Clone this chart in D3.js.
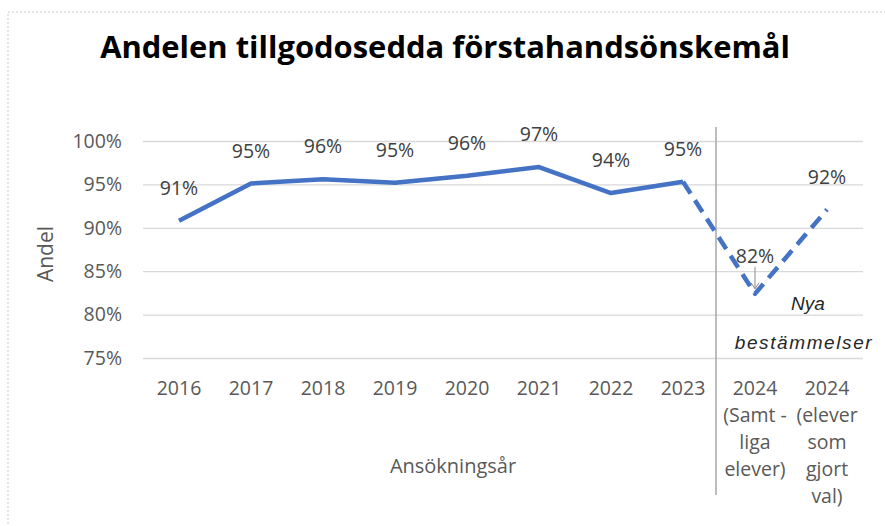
<!DOCTYPE html>
<html>
<head>
<meta charset="utf-8">
<script src="https://cdn.jsdelivr.net/npm/d3@7"></script>
<style>
  body { margin: 0; background: #fff; }
  svg { display: block; font-family: "Open Sans", sans-serif; }
</style>
</head>
<body>
<svg id="chart" width="885" height="526"></svg>
<script>
// Data
const categories = ["2016", "2017", "2018", "2019", "2020", "2021", "2022", "2023",
  "2024 (Samtliga elever)", "2024 (elever som gjort val)"];
const tickLines = [["2016"], ["2017"], ["2018"], ["2019"], ["2020"], ["2021"], ["2022"], ["2023"],
  ["2024", "(Samt -", "liga", "elever)"], ["2024", "(elever", "som", "gjort", "val)"]];
const values = [0.908, 0.951, 0.956, 0.952, 0.960, 0.970, 0.940, 0.953, 0.824, 0.921];
const valueLabels = ["91%", "95%", "96%", "95%", "96%", "97%", "94%", "95%", "82%", "92%"];
const yTicks = [0.75, 0.80, 0.85, 0.90, 0.95, 1.00];
const solidIdx = [0, 1, 2, 3, 4, 5, 6, 7];
const dashedIdx = [7, 8, 9];

const svg = d3.select("#chart");
const margin = { top: 141, right: 22, bottom: 168, left: 143 };
const W = +svg.attr("width"), H = +svg.attr("height");

const x = d3.scaleBand().domain(categories).range([margin.left, W - margin.right]);
const y = d3.scaleLinear().domain([0.75, 1.0]).range([H - margin.bottom, margin.top]);
const cx = (i) => x(categories[i]) + x.bandwidth() / 2;

// dotted chart frame (cut off at right / bottom)
svg.append("rect")
  .attr("x", 8).attr("y", 12).attr("width", 900).attr("height", 600)
  .attr("fill", "none").attr("stroke", "#c8c8c8").attr("stroke-dasharray", "2,2");

// title
const title = svg.append("text")
  .attr("x", 445).attr("y", 58)
  .attr("text-anchor", "middle")
  .attr("font-weight", "bold")
  .attr("font-size", 30)
  .attr("fill", "#000")
  .text("Andelen tillgodosedda förstahandsönskemål");
const tw = title.node().getComputedTextLength();
title.attr("font-size", 30 * 690 / tw);

// gridlines + y axis labels
const yAxis = d3.axisLeft(y).tickValues(yTicks)
  .tickSize(-(W - margin.left - margin.right))
  .tickFormat(d3.format(".0%"))
  .tickPadding(21);
const gy = svg.append("g").attr("transform", `translate(${margin.left},0)`).call(yAxis);
gy.select(".domain").remove();
gy.selectAll(".tick line").attr("stroke", "#d9d9d9").attr("stroke-width", 1.3);
gy.selectAll(".tick text").attr("fill", "#595959").attr("font-size", 19.5)
  .attr("font-family", "Open Sans, sans-serif");

// x axis labels (multi-line)
const xAxis = d3.axisBottom(x).tickSize(0).tickFormat("").tickPadding(0);
const gx = svg.append("g").attr("transform", `translate(0,${H - margin.bottom})`).call(xAxis);
gx.select(".domain").remove();
gx.selectAll(".tick").each(function (d, i) {
  const t = d3.select(this).append("text")
    .attr("fill", "#595959").attr("font-size", 19.5)
    .attr("font-family", "Open Sans, sans-serif")
    .attr("text-anchor", "middle");
  tickLines[i].forEach((line, k) => {
    t.append("tspan").attr("x", 0).attr("y", 37 + k * 27).text(line);
  });
});

// separator between 2023 and 2024
const sepX = x(categories[8]) - 3;
svg.append("line")
  .attr("x1", sepX).attr("x2", sepX).attr("y1", 127).attr("y2", 495)
  .attr("stroke", "#a6a6a6").attr("stroke-width", 1.5);

// axis titles
svg.append("text")
  .attr("transform", "translate(53,254) rotate(-90)")
  .attr("text-anchor", "middle")
  .attr("fill", "#595959").attr("font-size", 21)
  .text("Andel");
svg.append("text")
  .attr("x", 453).attr("y", 473)
  .attr("text-anchor", "middle")
  .attr("fill", "#595959").attr("font-size", 20)
  .text("Ansökningsår");

// line
const line = d3.line().x((i) => cx(i)).y((i) => y(values[i]));
svg.append("path").datum(solidIdx)
  .attr("d", line).attr("fill", "none")
  .attr("stroke", "#4472C4").attr("stroke-width", 4.5)
  .attr("stroke-linejoin", "round");
svg.append("path").datum(dashedIdx)
  .attr("d", line).attr("fill", "none")
  .attr("stroke", "#4472C4").attr("stroke-width", 4.5)
  .attr("stroke-dasharray", "14,8")
  .attr("stroke-linejoin", "round");

// data labels
svg.append("g").selectAll("text")
  .data(values)
  .join("text")
  .attr("x", (d, i) => cx(i))
  .attr("y", (d, i) => y(d) - (i === 8 ? 31 : 26))
  .attr("text-anchor", "middle")
  .attr("fill", "#404040").attr("font-size", 19.5)
  .text((d, i) => valueLabels[i]);

// callout arrow for 82%
const ax = cx(8), ay = y(values[8]);
svg.append("line")
  .attr("x1", ax).attr("x2", ax).attr("y1", ay - 27).attr("y2", ay - 5)
  .attr("stroke", "#8c8c8c").attr("stroke-width", 1);
svg.append("path")
  .attr("d", `M${ax - 4},${ay - 11} L${ax},${ay - 5} L${ax + 4},${ay - 11}`)
  .attr("fill", "none").attr("stroke", "#8c8c8c").attr("stroke-width", 1);

// annotation
svg.append("text")
  .attr("x", 808).attr("y", 310)
  .attr("text-anchor", "middle")
  .attr("font-style", "italic").attr("font-family", "Liberation Sans, Arial, sans-serif")
  .attr("fill", "#262626").attr("font-size", 19)
  .text("Nya");
svg.append("text")
  .attr("x", 804).attr("y", 349)
  .attr("text-anchor", "middle")
  .attr("font-style", "italic").attr("font-family", "Liberation Sans, Arial, sans-serif")
  .attr("fill", "#262626").attr("font-size", 19)
  .attr("letter-spacing", 1.6)
  .text("bestämmelser");
</script>
</body>
</html>
